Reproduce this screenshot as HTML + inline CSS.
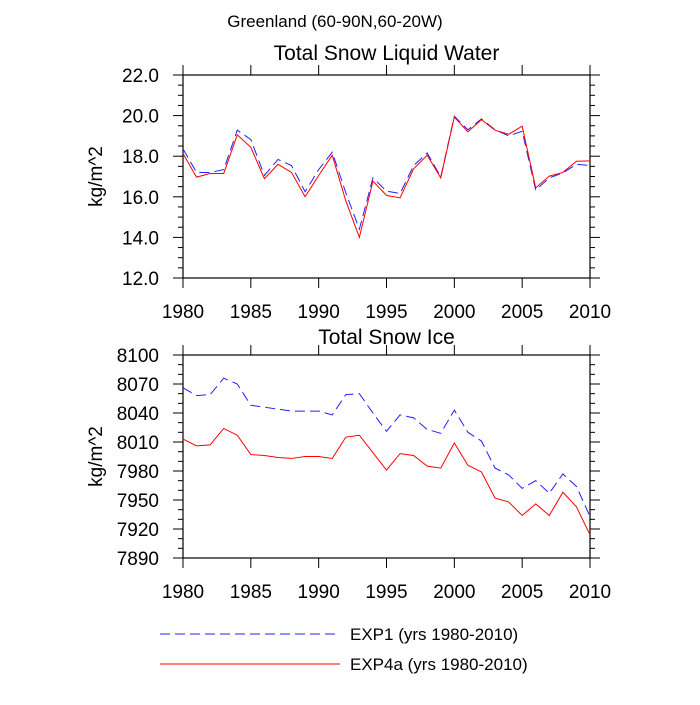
<!DOCTYPE html>
<html><head><meta charset="utf-8"><style>
body{margin:0;background:#fff}
svg text{font-family:"Liberation Sans",sans-serif;fill:#000}
</style></head><body>
<svg id="c" width="700" height="700" xmlns="http://www.w3.org/2000/svg"></svg>
<script>
const years=[];for(let y=1980;y<=2010;y++)years.push(y);
const liqExp1=[18.36,17.2,17.2,17.34,19.28,18.82,17.05,17.84,17.54,16.25,17.34,18.2,16.2,14.4,16.93,16.28,16.16,17.54,18.16,16.98,19.97,19.3,19.84,19.3,19.0,19.23,16.33,16.93,17.18,17.6,17.54];
const liqExp4a=[18.13,16.97,17.15,17.15,19.05,18.44,16.89,17.6,17.2,16.0,17.05,18.05,15.8,14.0,16.77,16.07,15.95,17.38,18.05,16.93,19.93,19.2,19.8,19.28,19.08,19.48,16.44,17.02,17.2,17.75,17.77];
const iceExp1=[8066,8058,8059,8076,8070,8048,8046,8044,8042,8042,8042,8038,8059,8060,8040,8021,8038,8035,8023,8019,8043,8020,8011,7983,7976,7962,7970,7957,7977,7964,7933];
const iceExp4a=[8013,8006,8007,8024,8017,7997,7996,7994,7993,7995,7995,7993,8015,8017,7999,7981,7998,7996,7985,7983,8009,7986,7979,7952,7948,7934,7946,7934,7958,7943,7914];
const xTicks=[1980,1985,1990,1995,2000,2005,2010];
const liqTicks=[12,14,16,18,20,22];
const iceTicks=[7890,7920,7950,7980,8010,8040,8070,8100];

const svg=document.getElementById('c');const NS='http://www.w3.org/2000/svg';
function el(t,a,p){const e=document.createElementNS(NS,t);for(const k in a)e.setAttribute(k,a[k]);(p||svg).appendChild(e);return e;}
const L=183,R=590;
const xs=v=>L+(v-1980)/30*(R-L);
function panel(name,top,bot,ymin,ymax,yt,minorStep,fmt,s1,s2,title,tOff){
  const g=el('g',{});
  
  
  const ys=v=>bot-(v-ymin)/(ymax-ymin)*(bot-top);
  el('rect',{x:L,y:top,width:R-L,height:bot-top,fill:'none',stroke:'#000','stroke-width':1.2},g);
  for(const t of xTicks){const x=xs(t);
    el('line',{x1:x,x2:x,y1:bot,y2:bot+10,stroke:'#000'},g);el('line',{x1:x,x2:x,y1:top,y2:top-10,stroke:'#000'},g);
    const tx=el('text',{x:x,y:bot+40,'font-size':19,'text-anchor':'middle'},g);tx.textContent=t;
    }
  for(let v=ymin;v<=ymax+1e-9;v+=minorStep){const y=ys(v);const mj=yt.some(t=>Math.abs(t-v)<1e-6);const l=mj?10:5;
    el('line',{x1:L,x2:L-l,y1:y,y2:y,stroke:'#000'},g);el('line',{x1:R,x2:R+l,y1:y,y2:y,stroke:'#000'},g);}
  for(const t of yt){const tx=el('text',{x:L-24,y:ys(t)+7,'font-size':19,'text-anchor':'end'},g);tx.textContent=fmt(t);
    }
  const yl=el('text',{x:0,y:0,'font-size':19,'text-anchor':'middle',transform:`translate(102,${(top+bot)/2}) rotate(-90)`},g);yl.textContent='kg/m^2';
  
  const ti=el('text',{x:(L+R)/2,y:top-tOff,'font-size':21,'text-anchor':'middle'},g);ti.textContent=title;
  
  const p1=el('polyline',{points:years.map((y,i)=>xs(y)+','+ys(s1[i])).join(' '),fill:'none',stroke:'#2020ff','stroke-width':1,'stroke-dasharray':'10,5'},g);
  
  const p2=el('polyline',{points:years.map((y,i)=>xs(y)+','+ys(s2[i])).join(' '),fill:'none',stroke:'#ff0000','stroke-width':1},g);
  
}
const mt=el('text',{x:335,y:27,'font-size':17,'text-anchor':'middle'});mt.textContent='Greenland (60-90N,60-20W)';

panel('liquid-water-panel',75,278,12,22,liqTicks,0.5,v=>v.toFixed(1),liqExp1,liqExp4a,'Total Snow Liquid Water',15);
panel('snow-ice-panel',355,558,7890,8100,iceTicks,10,v=>v,iceExp1,iceExp4a,'Total Snow Ice',11);
const lg=el('g',{});
el('line',{x1:160,x2:340,y1:634,y2:634,stroke:'#2020ff','stroke-dasharray':'10,5'},lg);
const t1=el('text',{x:350,y:640,'font-size':17},lg);t1.textContent='EXP1 (yrs 1980-2010)';

el('line',{x1:160,x2:340,y1:664,y2:664,stroke:'#ff0000'},lg);
const t2=el('text',{x:350,y:670,'font-size':17},lg);t2.textContent='EXP4a (yrs 1980-2010)';

</script>
</body></html>
